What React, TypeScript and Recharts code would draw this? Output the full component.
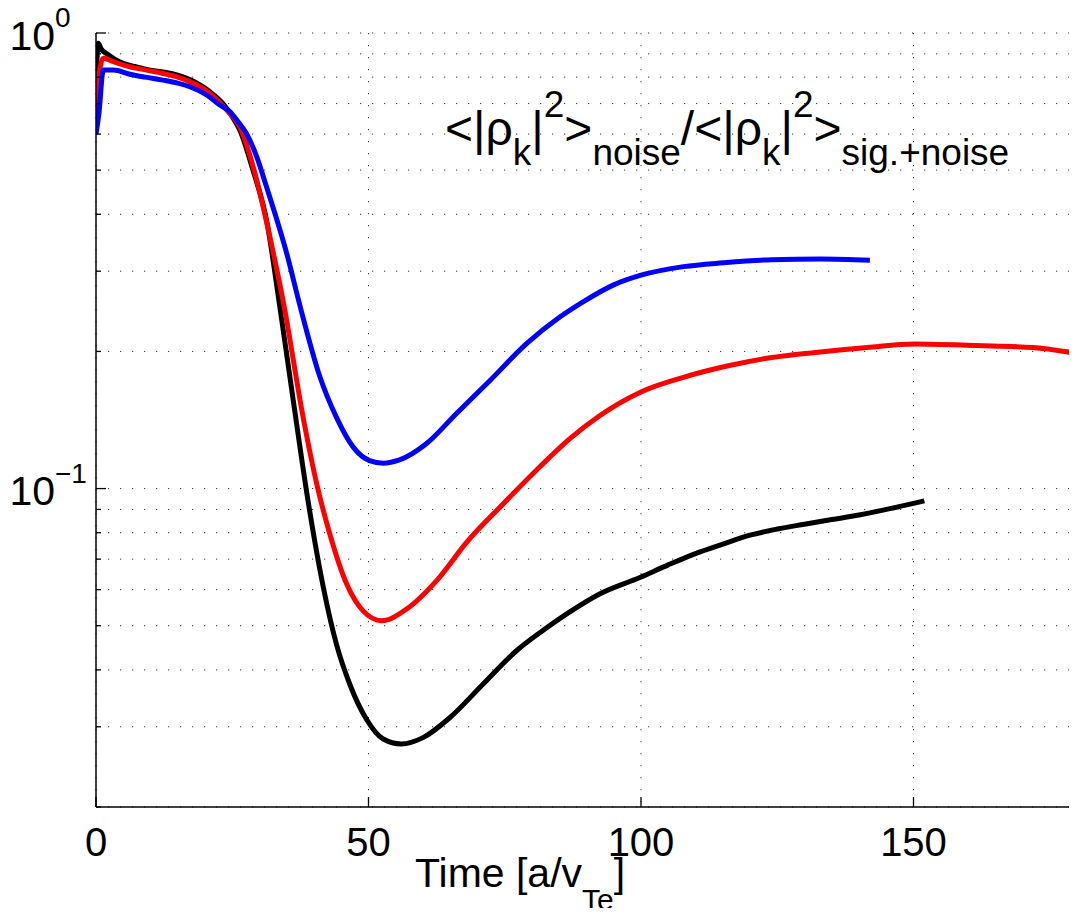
import React from 'react';
import { LineChart, Line, XAxis, YAxis, CartesianGrid } from 'recharts';

// ---- data ----
const blackTime = [0, 0.4, 1, 2, 3.5, 5, 7, 9.3, 12, 14.2, 17.2, 19, 20.9, 23.3, 25, 26.4, 28.8, 31.3, 33.7, 36.2, 38.9, 41.7, 44.1, 46.6, 49.6, 52.7, 56, 60, 64.9, 71, 77.1, 82, 86.3, 92.4, 99.8, 105, 110, 115, 120, 125, 130, 135, 140, 145, 152];
const blackRatio = [0.75, 0.95, 0.92, 0.9, 0.875, 0.858, 0.845, 0.832, 0.822, 0.813, 0.79, 0.77, 0.743, 0.7, 0.655, 0.612, 0.5, 0.388, 0.252, 0.156, 0.0941, 0.0608, 0.0456, 0.0371, 0.0312, 0.0282, 0.0275, 0.0284, 0.0314, 0.0372, 0.044, 0.0488, 0.053, 0.0587, 0.0638, 0.068, 0.072, 0.0755, 0.079, 0.0815, 0.0835, 0.0855, 0.0875, 0.09, 0.094];

const redTime = [0, 0.5, 1.35, 3.2, 6.2, 9, 12.3, 15, 17.2, 20.9, 24, 26.4, 29.5, 31.9, 34.5, 38, 40.5, 42.9, 46, 49, 52.4, 57, 62.5, 68, 74.7, 81.4, 86.9, 92.4, 100, 107.8, 116, 124, 132, 141.5, 150.2, 161.6, 171.8, 180];
const redRatio = [0.66, 0.8, 0.88, 0.865, 0.843, 0.83, 0.815, 0.8, 0.782, 0.737, 0.677, 0.622, 0.475, 0.357, 0.252, 0.1435, 0.1024, 0.0795, 0.0617, 0.0539, 0.0513, 0.0544, 0.0628, 0.0762, 0.0925, 0.1115, 0.1285, 0.1445, 0.163, 0.1755, 0.186, 0.194, 0.199, 0.204, 0.2076, 0.206, 0.204, 0.198];

const blueTime = [0, 0.5, 1.35, 3.2, 6.2, 9, 12.3, 15, 17.2, 20.3, 22.7, 24.6, 26, 27.6, 29.5, 31.3, 35, 37.5, 41.1, 44.1, 47.2, 50.2, 52.7, 55.7, 60.6, 66.1, 72.3, 79, 85.1, 89.6, 95, 100, 107.8, 115, 124, 133, 142];
const blueRatio = [0.6, 0.66, 0.829, 0.829, 0.812, 0.8, 0.788, 0.776, 0.762, 0.731, 0.695, 0.672, 0.64, 0.602, 0.535, 0.459, 0.328, 0.25, 0.1757, 0.1435, 0.1233, 0.1152, 0.1137, 0.1156, 0.1254, 0.146, 0.1727, 0.208, 0.238, 0.258, 0.28, 0.294, 0.307, 0.313, 0.318, 0.319, 0.317];

const xTicks = [0, 50, 100, 150];
const yTicks = [0.02, 0.03, 0.04, 0.05, 0.06, 0.07, 0.08, 0.09, 0.1, 0.2, 0.3, 0.4, 0.5, 0.6, 0.7, 0.8, 0.9, 1];
const xDomain: [number, number] = [0, 180];
const yDomain: [number, number] = [0.02, 1];

const zip = (ts: number[], vs: number[]) => ts.map((t, i) => ({ t, v: vs[i] }));
const blackData = zip(blackTime, blackRatio);
const redData = zip(redTime, redRatio);
const blueData = zip(blueTime, blueRatio);

const FONT = '"Liberation Sans", Arial, Helvetica, sans-serif';

const isMajor = (v: number) => {
  const l = Math.log10(v);
  return Math.abs(l - Math.round(l)) < 1e-9;
};

const LeftTick = (props: any) => {
  const { x, y, payload } = props;
  const v = payload.value;
  const major = isMajor(v);
  const exp = Math.round(Math.log10(v));
  return (
    <g>
      <line x1={x} x2={x + (major ? 10 : 5)} y1={y} y2={y} stroke="#000" strokeWidth={1.3} />
      {major && (
        <g fontFamily={FONT} fill="#000">
          <text x={x - 41} y={y + 16.5} textAnchor="end" fontSize={41}>10</text>
          <text x={x - 41} y={y - 6} textAnchor="start" fontSize={28}>
            {exp < 0 ? '\u2212' + String(-exp) : String(exp)}
          </text>
        </g>
      )}
    </g>
  );
};

const RightTick = (props: any) => {
  const { x, y, payload } = props;
  const major = isMajor(payload.value);
  return <line x1={x} x2={x - (major ? 10 : 5)} y1={y} y2={y} stroke="#000" strokeWidth={1.3} />;
};

const BottomTick = (props: any) => {
  const { x, y, payload } = props;
  return (
    <g>
      <line x1={x} x2={x} y1={y} y2={y - 10} stroke="#000" strokeWidth={1.3} />
      <text x={x} y={y + 49} textAnchor="middle" fontSize={40} fontFamily={FONT} fill="#000">
        {payload.value}
      </text>
    </g>
  );
};

const TopTick = (props: any) => {
  const { x, y } = props;
  return <line x1={x} x2={x} y1={y} y2={y + 10} stroke="#000" strokeWidth={1.3} />;
};

export default function App() {
  return (
    <div style={{ position: 'relative', width: 1069, height: 900 }}>
      <style>{`.recharts-surface{overflow:visible}`}</style>
      <LineChart width={1069} height={900} margin={{ top: 25, right: 0, bottom: 41, left: 0 }}>
        <CartesianGrid
          xAxisId="bottom"
          yAxisId="left"
          stroke="#333"
          strokeWidth={1}
          strokeDasharray="1.2 10.8"
        />
        <XAxis
          xAxisId="bottom"
          type="number"
          dataKey="t"
          domain={xDomain}
          ticks={xTicks}
          allowDataOverflow
          height={60}
          tickSize={0}
          tickMargin={0}
          tickLine={false}
          interval={0}
          axisLine={{ stroke: '#000', strokeWidth: 1.5 }}
          tick={<BottomTick />}
        />
        <XAxis
          xAxisId="top"
          orientation="top"
          type="number"
          dataKey="t"
          domain={xDomain}
          ticks={xTicks}
          allowDataOverflow
          height={0}
          tickSize={0}
          tickMargin={0}
          tickLine={false}
          interval={0}
          axisLine={{ stroke: '#000', strokeWidth: 1.5 }}
          tick={<TopTick />}
        />
        <YAxis
          yAxisId="left"
          type="number"
          scale="log"
          domain={yDomain}
          ticks={yTicks}
          allowDataOverflow
          width={88}
          tickSize={0}
          tickMargin={0}
          tickLine={false}
          interval={0}
          axisLine={{ stroke: '#000', strokeWidth: 1.5 }}
          tick={<LeftTick />}
        />
        <YAxis
          yAxisId="right"
          orientation="right"
          type="number"
          scale="log"
          domain={yDomain}
          ticks={yTicks}
          allowDataOverflow
          width={0}
          tickSize={0}
          tickMargin={0}
          tickLine={false}
          interval={0}
          axisLine={false}
          tick={<RightTick />}
        />
        <Line xAxisId="bottom" yAxisId="left" data={blackData} dataKey="v" type="monotone" stroke="#000000" strokeWidth={5} dot={false} isAnimationActive={false} />
        <Line xAxisId="bottom" yAxisId="left" data={redData} dataKey="v" type="monotone" stroke="#ff0000" strokeWidth={5} dot={false} isAnimationActive={false} />
        <Line xAxisId="bottom" yAxisId="left" data={blueData} dataKey="v" type="monotone" stroke="#0000ff" strokeWidth={5} dot={false} isAnimationActive={false} />
      </LineChart>
      <svg
        width={1077}
        height={917}
        style={{ position: 'absolute', left: -8, top: -8, pointerEvents: 'none' }}
      >
        <g fontFamily={FONT} fill="#000">
          <text x={445} y={145} fontSize={48}>
            <tspan>{'<|\u03C1'}</tspan>
            <tspan fontSize={37} dy={20}>k</tspan>
            <tspan dy={-20}>|</tspan>
            <tspan fontSize={37} dy={-28}>2</tspan>
            <tspan dy={28}>{'>'}</tspan>
            <tspan fontSize={37} dy={20}>noise</tspan>
            <tspan dy={-20}>{'/<|\u03C1'}</tspan>
            <tspan fontSize={37} dy={20}>k</tspan>
            <tspan dy={-20}>|</tspan>
            <tspan fontSize={37} dy={-28}>2</tspan>
            <tspan dy={28}>{'>'}</tspan>
            <tspan fontSize={37} dy={20}>sig.+noise</tspan>
          </text>
          <text x={415} y={887} fontSize={41}>
            <tspan>Time [a/v</tspan>
            <tspan fontSize={30} dy={23}>Te</tspan>
            <tspan dy={-23}>]</tspan>
          </text>
        </g>
      </svg>
    </div>
  );
}
